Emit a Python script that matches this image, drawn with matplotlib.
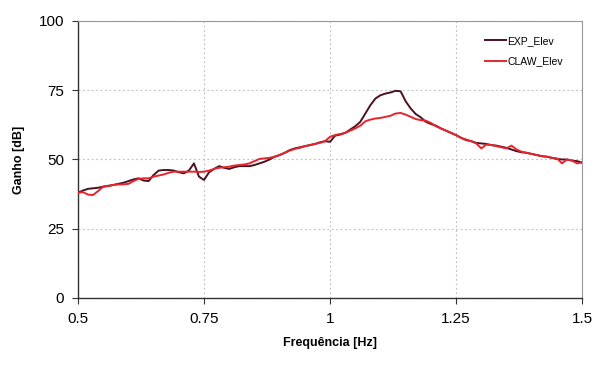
import matplotlib
matplotlib.use("Agg")
import matplotlib.pyplot as plt

freq = [0.50, 0.51, 0.52, 0.53, 0.54, 0.55, 0.56, 0.57, 0.58, 0.59,
        0.60, 0.61, 0.62, 0.63, 0.64, 0.65, 0.66, 0.67, 0.68, 0.69,
        0.70, 0.71, 0.72, 0.73, 0.74, 0.75, 0.76, 0.77, 0.78, 0.79,
        0.80, 0.81, 0.82, 0.83, 0.84, 0.85, 0.86, 0.87, 0.88, 0.89,
        0.90, 0.91, 0.92, 0.93, 0.94, 0.95, 0.96, 0.97, 0.98, 0.99,
        1.00, 1.01, 1.02, 1.03, 1.04, 1.05, 1.06, 1.07, 1.08, 1.09,
        1.10, 1.11, 1.12, 1.13, 1.14, 1.15, 1.16, 1.17, 1.18, 1.19,
        1.20, 1.21, 1.22, 1.23, 1.24, 1.25, 1.26, 1.27, 1.28, 1.29,
        1.30, 1.31, 1.32, 1.33, 1.34, 1.35, 1.36, 1.37, 1.38, 1.39,
        1.40, 1.41, 1.42, 1.43, 1.44, 1.45, 1.46, 1.47, 1.48, 1.49,
        1.50]

exp_elev = [38.0, 38.8, 39.4, 39.6, 39.8, 40.2, 40.5, 40.8, 41.2, 41.6,
            42.2, 42.8, 43.2, 42.4, 42.2, 44.4, 46.0, 46.2, 46.2, 46.0,
            45.4, 45.0, 46.0, 48.6, 43.8, 42.6, 45.4, 46.6, 47.6, 47.0,
            46.6, 47.2, 47.6, 47.6, 47.6, 48.0, 48.6, 49.2, 50.0, 51.0,
            51.6, 52.4, 53.4, 54.0, 54.4, 54.8, 55.2, 55.6, 56.2, 56.6,
            56.4, 58.6, 59.0, 59.6, 60.8, 62.0, 63.6, 66.6, 69.6, 72.0,
            73.2, 73.8, 74.2, 74.8, 74.6, 71.0, 68.4, 66.4, 65.2, 63.6,
            62.8, 62.2, 61.2, 60.4, 59.6, 58.8, 57.8, 57.0, 56.6, 56.0,
            55.8, 55.6, 55.2, 55.0, 54.6, 54.2, 53.6, 53.0, 52.6, 52.4,
            52.0, 51.6, 51.2, 51.0, 50.6, 50.2, 50.0, 50.0, 49.6, 49.4,
            48.9]

claw_elev = [38.0, 38.2, 37.3, 37.2, 38.6, 40.2, 40.4, 40.8, 41.0, 41.0,
             41.2, 42.2, 43.0, 43.2, 43.2, 43.8, 44.2, 44.6, 45.2, 45.6,
             45.6, 45.6, 45.6, 45.6, 45.5, 45.6, 46.0, 46.6, 47.0, 47.2,
             47.4, 47.8, 48.0, 48.2, 48.6, 49.4, 50.2, 50.4, 50.6, 51.0,
             51.6, 52.4, 53.2, 53.8, 54.2, 54.8, 55.2, 55.6, 56.0, 56.6,
             58.2, 58.8, 59.2, 59.6, 60.4, 61.2, 62.2, 63.8, 64.4, 64.8,
             65.0, 65.4, 65.8, 66.6, 66.8, 66.2, 65.4, 64.6, 64.2, 64.0,
             63.2, 62.0, 61.2, 60.4, 59.6, 58.8, 57.8, 57.2, 56.6, 55.8,
             54.0, 55.4, 55.2, 54.8, 54.4, 54.0, 55.0, 53.6, 52.8, 52.4,
             52.0, 51.6, 51.2, 51.0, 50.6, 50.4, 48.6, 50.0, 49.6, 48.6,
             48.9]

x_ticks = [0.5, 0.75, 1, 1.25, 1.5]
x_tick_labels = ["0.5", "0.75", "1", "1.25", "1.5"]
y_ticks = [0, 25, 50, 75, 100]

plt.rcParams['font.family'] = ['Liberation Sans', 'DejaVu Sans']

fig = plt.figure(figsize=(5.94, 3.65), dpi=100)
ax = fig.add_axes([0.1313, 0.1836, 0.8487, 0.7589])

ax.plot(freq, exp_elev, color="#4a1220", lw=1.4, label="EXP_Elev", zorder=3)
ax.plot(freq, claw_elev, color="#e8232e", lw=1.4, label="CLAW_Elev", zorder=4)

ax.set_xlim(0.5, 1.5)
ax.set_ylim(0, 100)
ax.set_xticks(x_ticks)
ax.set_xticklabels(x_tick_labels)
ax.set_yticks(y_ticks)
ax.tick_params(axis="both", labelsize=11, length=4, direction="out", color="#333333", pad=6)

ax.grid(True, linestyle=(0, (1.5, 2.5)), color="#bbbbbb", lw=0.8)
ax.set_axisbelow(True)

for side in ["left", "bottom"]:
    ax.spines[side].set_color("#333333")
    ax.spines[side].set_linewidth(1.0)
for side in ["top", "right"]:
    ax.spines[side].set_color("#999999")
    ax.spines[side].set_linewidth(0.8)

ax.set_xlabel("Frequência [Hz]", fontsize=9, fontweight="bold", labelpad=8)
ax.set_ylabel("Ganho [dB]", fontsize=9, fontweight="bold", labelpad=10)

leg = ax.legend(loc="upper right", frameon=False, fontsize=7.5, handlelength=2.0,
                handletextpad=0.1, labelspacing=1.0, bbox_to_anchor=(0.98, 0.98))

fig.savefig("out.png", dpi=100)
